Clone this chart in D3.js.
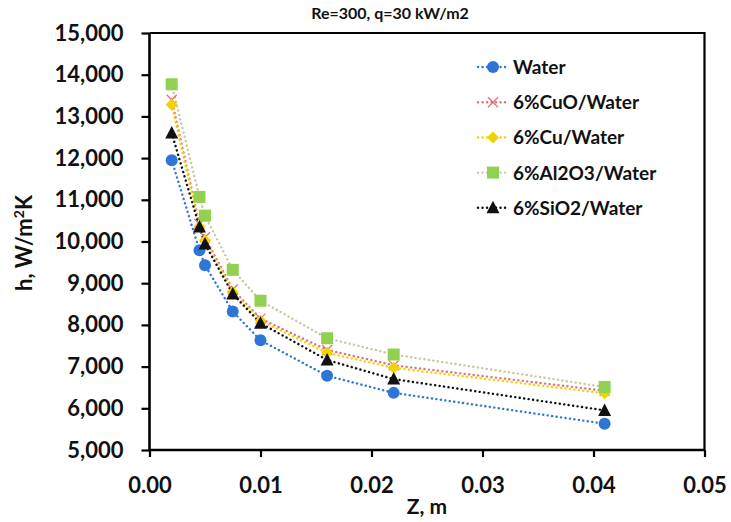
<!DOCTYPE html>
<html><head><meta charset="utf-8">
<script src="https://cdn.jsdelivr.net/npm/d3@7"></script>
<style>body{margin:0;background:#fff}svg{display:block}text{font-family:Lato,"Open Sans",sans-serif;font-weight:bold;fill:#111}</style>
</head><body><svg id="c" width="731" height="522"></svg>
<script>
const zValues = [0.002, 0.0045, 0.005, 0.0075, 0.01, 0.016, 0.022, 0.041];
const seriesNames = ["Water", "6%CuO/Water", "6%Cu/Water", "6%Al2O3/Water", "6%SiO2/Water"];
const water = [11950, 9790, 9430, 8320, 7630, 6780, 6370, 5630];
const cuo   = [13400, 10420, 10100, 8850, 8150, 7400, 7030, 6420];
const cu    = [13280, 10360, 10030, 8790, 8100, 7330, 6970, 6360];
const al2o3 = [13770, 11070, 10620, 9320, 8580, 7680, 7290, 6510];
const sio2  = [12600, 10350, 9940, 8740, 8040, 7160, 6700, 5950];
const xTicks = [0, 0.01, 0.02, 0.03, 0.04, 0.05];
const yTicks = [5000, 6000, 7000, 8000, 9000, 10000, 11000, 12000, 13000, 14000, 15000];
const titleText = "Re=300, q=30 kW/m2";
const xTitle = "Z, m";

const styles = [
  {line:"#2e75d6", fill:"#2e75d6", marker:"circle"},
  {line:"#e0707c", fill:"none", marker:"x"},
  {line:"#f2d200", fill:"#f2d200", marker:"diamond"},
  {line:"#c8c89c", fill:"#92d050", marker:"square"},
  {line:"#111", fill:"#111", marker:"triangle"}
];
const allSeries = [water, cuo, cu, al2o3, sio2];

const svg = d3.select("#c");
const L = 149.5, R = 704.5, T = 33, B = 450;
const x = d3.scaleLinear().domain([0, 0.05]).range([L, R]);
const y = d3.scaleLinear().domain([5000, 15000]).range([B, T]);

svg.append("path").attr("d", `M${L},${T}H${R}V${B}`).attr("fill","none").attr("stroke","#000").attr("stroke-width",2.2);

const fmt = d3.format(",");
const gy = svg.append("g").attr("transform", `translate(${L},0)`)
  .call(d3.axisLeft(y).tickValues(yTicks).tickFormat(fmt).tickSize(8).tickPadding(18));
const gx = svg.append("g").attr("transform", `translate(0,${B})`)
  .call(d3.axisBottom(x).tickValues(xTicks).tickFormat(d3.format(".2f")).tickSize(7).tickPadding(20));
[gx, gy].forEach(g => {
  g.select(".domain").attr("stroke","#000").attr("stroke-width",2.6);
  g.selectAll(".tick line").attr("stroke","#000").attr("stroke-width",2.2);
  g.selectAll(".tick text").style("font-size","22px").style("font-family","Lato, sans-serif").style("font-weight","bold").attr("fill","#111");
});
gy.select(".domain").attr("d", `M0,${B}V${T}`);
gx.select(".domain").attr("d", `M${L},0H${R}`);

svg.append("text").attr("x", 390).attr("y", 19).attr("text-anchor","middle").style("font-size","16px").text(titleText);
svg.append("text").attr("x", 427).attr("y", 514).attr("text-anchor","middle").style("font-size","21px").text(xTitle);
const yt = svg.append("text").attr("transform","translate(32,243) rotate(-90)").attr("text-anchor","middle").style("font-size","22px");
yt.append("tspan").text("h, W/m");
yt.append("tspan").attr("dy",-8).style("font-size","14px").text("2");
yt.append("tspan").attr("dy",8).text("K");

function drawMarker(g, type, st, cx, cy) {
  if (type === "circle") g.append("circle").attr("cx",cx).attr("cy",cy).attr("r",6).attr("fill",st.fill);
  else if (type === "square") g.append("rect").attr("x",cx-6).attr("y",cy-6).attr("width",12).attr("height",12).attr("fill",st.fill);
  else if (type === "diamond") g.append("path").attr("d",`M${cx},${cy-6}L${cx+6},${cy}L${cx},${cy+6}L${cx-6},${cy}Z`).attr("fill",st.fill);
  else if (type === "triangle") g.append("path").attr("d",`M${cx},${cy-7}L${cx+6.5},${cy+5.5}L${cx-6.5},${cy+5.5}Z`).attr("fill",st.fill);
  else if (type === "x") g.append("path").attr("d",`M${cx-5},${cy-5}L${cx+5},${cy+5}M${cx+5},${cy-5}L${cx-5},${cy+5}`).attr("stroke",st.line).attr("stroke-width",1.3);
}

const line = d3.line().x((d,i)=>x(zValues[i])).y(d=>y(d));
const plot = svg.append("g");
allSeries.forEach((s, k) => {
  plot.append("path").datum(s).attr("d", line).attr("fill","none")
    .attr("stroke", styles[k].line).attr("stroke-width", 2.4)
    .attr("stroke-dasharray","0.1,4.4").attr("stroke-linecap","round");
});
allSeries.forEach((s, k) => {
  const g = plot.append("g");
  s.forEach((v,i) => drawMarker(g, styles[k].marker, styles[k], x(zValues[i]), y(v)));
});

const leg = svg.append("g");
seriesNames.forEach((name, k) => {
  const ly = 67 + k*35.2;
  leg.append("path").attr("d", `M478,${ly}H509`).attr("stroke", styles[k].line).attr("stroke-width",2.4)
    .attr("stroke-dasharray","0.1,4.4").attr("stroke-linecap","round").attr("fill","none");
  drawMarker(leg, styles[k].marker, styles[k], 493, ly);
  leg.append("text").attr("x", 513).attr("y", ly + 7).style("font-size","19px").text(name);
});
</script></body></html>
